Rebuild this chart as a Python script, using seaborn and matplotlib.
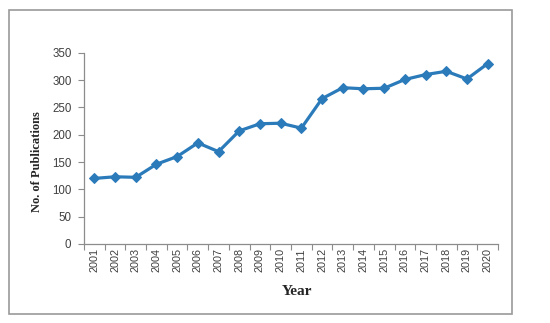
import matplotlib
matplotlib.use("Agg")
import matplotlib.pyplot as plt
import matplotlib.patches as patches
import numpy as np
import pandas as pd
import seaborn as sns

years = ["2001", "2002", "2003", "2004", "2005", "2006", "2007", "2008", "2009", "2010",
         "2011", "2012", "2013", "2014", "2015", "2016", "2017", "2018", "2019", "2020"]
publications = [120, 123, 122, 146, 160, 185, 169, 207, 220, 221,
                212, 266, 286, 284, 285, 301, 310, 316, 302, 330]
y_ticks = [0, 50, 100, 150, 200, 250, 300, 350]

sns.set_theme(style="white")
plt.rcParams["font.family"] = ["Liberation Sans", "DejaVu Sans"]

df = pd.DataFrame({"Year": years, "Publications": publications})
df["pos"] = np.arange(len(years))

fig = plt.figure(figsize=(5.5, 3.23), dpi=100)
ax = fig.add_axes([0.1527, 0.2446, 0.7528, 0.5922])

line_color = "#2B7BBA"
sns.lineplot(data=df, x="pos", y="Publications", ax=ax, color=line_color,
             linewidth=2.3, marker="D", markersize=5.5, markeredgecolor=line_color,
             markerfacecolor=line_color)

ax.set_xlim(-0.5, len(years) - 0.5)
ax.set_ylim(0, 350)
ax.set_yticks(y_ticks)
ax.set_yticklabels([str(v) for v in y_ticks], fontsize=8.3, color="#404040")

ax.set_xticks(np.arange(len(years)))
ax.set_xticklabels(years, rotation=90, fontsize=7.8, color="#404040")
ax.tick_params(axis="x", which="major", length=0, pad=3)
ax.set_xticks(np.arange(-0.5, len(years)), minor=True)
ax.tick_params(axis="x", which="minor", length=4, width=0.8, color="#8c8c8c", direction="out", bottom=True)
ax.tick_params(axis="y", length=4, width=0.8, color="#8c8c8c", direction="out", left=True, pad=5)

for side in ["top", "right"]:
    ax.spines[side].set_visible(False)
for side in ["left", "bottom"]:
    ax.spines[side].set_color("#8c8c8c")
    ax.spines[side].set_linewidth(0.9)

ax.set_xlabel("")
ax.set_ylabel("")
fig.text(0.0667, 0.50, "No. of Publications", rotation=90, ha="center", va="center",
         fontsize=9, fontweight="bold", family=["Liberation Serif", "DejaVu Serif"])
fig.text(0.54, 0.096, "Year", ha="center", va="center",
         fontsize=11, fontweight="bold", family=["Liberation Serif", "DejaVu Serif"])

frame = patches.Rectangle((9 / 550, 1 - 314 / 323), (512 - 9) / 550, (314 - 10) / 323,
                          transform=fig.transFigure, fill=False, edgecolor="#9a9a9a",
                          linewidth=1.2)
fig.patches.append(frame)

fig.savefig("out.png", dpi=100)
